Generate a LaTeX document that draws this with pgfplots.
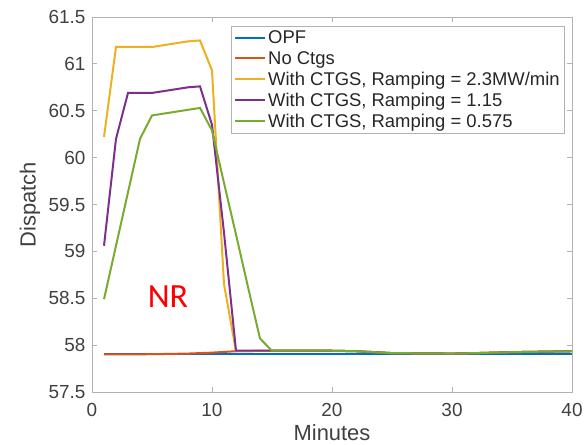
\documentclass[border=0pt]{standalone}
\usepackage{pgfplots}
\pgfplotsset{compat=1.18}
\usepackage{fontspec}
\setmainfont{Liberation Sans}
\newfontfamily\nrfont{Carlito}
\definecolor{mblue}{rgb}{0,0.447,0.741}
\definecolor{mred}{rgb}{0.85,0.325,0.098}
\definecolor{myellow}{rgb}{0.929,0.694,0.125}
\definecolor{mpurple}{rgb}{0.494,0.184,0.556}
\definecolor{mgreen}{rgb}{0.466,0.674,0.188}
\begin{document}
\begin{tikzpicture}
\begin{axis}[
  at={(0,0)}, anchor=south west,
  scale only axis, width=480bp, height=375bp,
  xmin=0, xmax=40, ymin=57.5, ymax=61.5,
  xtick={0,10,20,30,40},
  ytick={57.5,58,58.5,59,59.5,60,60.5,61,61.5},
  /pgf/number format/assume math mode=true,
  tick align=inside,
  major tick length=5bp,
  axis line style={gray!60, line width=0.8bp},
  tick style={gray!60, line width=0.8bp},
  ticklabel style={font=\fontsize{19}{19}\selectfont, text=black!75},
  xticklabel style={yshift=-8bp},
  yticklabel style={xshift=-3bp},
  xlabel={Minutes}, ylabel={Dispatch},
  label style={font=\fontsize{22}{22}\selectfont, text=black!75},
  xlabel style={at={(axis description cs:0.5,-0.109)}, anchor=center},
  ylabel style={at={(axis description cs:-0.129,0.5)}, anchor=center},
  legend cell align=left,
  legend style={at={(0.985,0.976)}, anchor=north east, draw=gray!60,
    font=\fontsize{18.5}{19}\selectfont, text=black!85, row sep=2.2bp,
    inner xsep=3bp, inner ysep=2.5bp},
  legend image code/.code={\draw[#1,line width=2bp] (0bp,0bp) -- (30bp,0bp);},
  every axis plot/.append style={line width=2bp},
]
\addplot[mblue] coordinates {(1,57.9) (40,57.9)};
\addlegendentry{OPF}
\addplot[mred] coordinates {(1,57.9)(5,57.903)(8,57.91)(10,57.92)(12,57.935)(15,57.94)(20,57.94)(22,57.935)(25,57.915)(30,57.91)(32,57.915)(35,57.925)(40,57.935)};
\addlegendentry{No Ctgs}
\addplot[myellow] coordinates {(1,60.22)(2,61.18)(3,61.18)(4,61.18)(5,61.18)(6,61.2)(7,61.22)(8,61.24)(9,61.25)(10,60.93)(11,58.65)(12,57.935)(15,57.94)(20,57.94)(22,57.935)(25,57.915)(30,57.91)(32,57.915)(35,57.925)(40,57.935)};
\addlegendentry{With CTGS, Ramping = 2.3MW/min}
\addplot[mpurple] coordinates {(1,59.06)(2,60.2)(3,60.69)(4,60.69)(5,60.69)(6,60.71)(7,60.73)(8,60.75)(9,60.76)(10,60.35)(11,59.2)(12,57.94)(13,57.94)(14,57.94)(15,57.94)(20,57.94)(22,57.935)(25,57.915)(30,57.91)(32,57.915)(35,57.925)(40,57.935)};
\addlegendentry{With CTGS, Ramping = 1.15}
\addplot[mgreen] coordinates {(1,58.49)(2,59.06)(3,59.63)(4,60.2)(5,60.45)(6,60.47)(7,60.49)(8,60.51)(9,60.53)(10,60.29)(11,59.73)(12,59.18)(13,58.62)(14,58.07)(15,57.94)(20,57.94)(22,57.935)(25,57.915)(30,57.91)(32,57.915)(35,57.925)(40,57.935)};
\addlegendentry{With CTGS, Ramping = 0.575}
\node[text=red, font=\nrfont\fontsize{34}{34}\selectfont] at (axis cs:6.33,58.52) {NR};
\end{axis}
\pgfresetboundingbox
\path[use as bounding box] (-92bp,-53bp) rectangle (492bp,392bp);
\end{tikzpicture}
\end{document}
